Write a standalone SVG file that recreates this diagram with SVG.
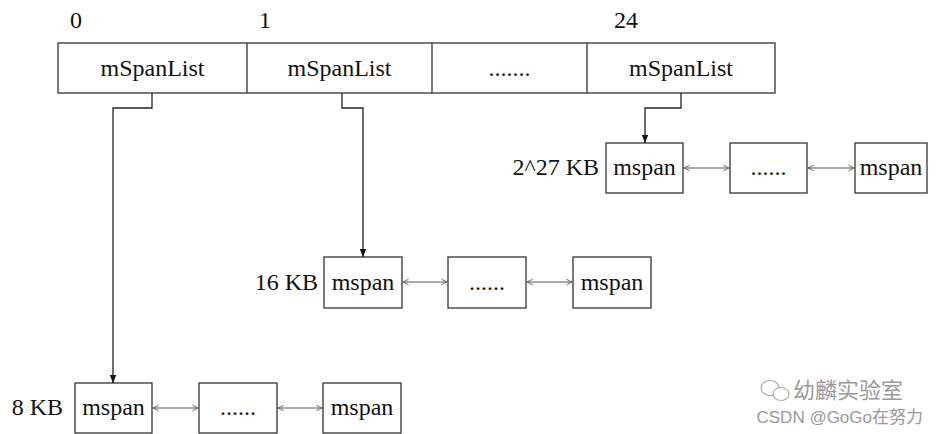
<svg xmlns="http://www.w3.org/2000/svg" width="938" height="434" viewBox="0 0 938 434">
<style>
.t{font-family:"Liberation Serif","Times New Roman",serif;font-size:24px;fill:#111}
.c{text-anchor:middle}
.box{fill:#fff;stroke:#333;stroke-width:1.3}
.lnk{fill:none;stroke:#222;stroke-width:1.3}
.bi{fill:none;stroke:#555;stroke-width:1}
.wm{font-family:"Liberation Sans","Noto Sans CJK SC",sans-serif;fill:#999}
</style>
<defs>
<marker id="arr" viewBox="0 0 10 10" refX="10" refY="5" markerWidth="8" markerHeight="8" markerUnits="userSpaceOnUse" orient="auto">
<path d="M0,1 L10,5 L0,9 Z" fill="#111"/>
</marker>
<marker id="chev" viewBox="0 0 10 10" refX="9" refY="5" markerWidth="7" markerHeight="8" markerUnits="userSpaceOnUse" orient="auto-start-reverse">
<path d="M1,1 L9,5 L1,9" fill="none" stroke="#555" stroke-width="1.2"/>
</marker>
</defs>
<rect width="938" height="434" fill="#fff"/>

<g id="indices">
<text class="t" x="70" y="28">0</text>
<text class="t" x="259" y="28">1</text>
<text class="t c" x="626" y="28">24</text>
</g>

<g id="spanlist-array">
<rect class="box" x="58" y="43" width="717" height="50"/>
<line class="box" x1="247" y1="43" x2="247" y2="93"/>
<line class="box" x1="432" y1="43" x2="432" y2="93"/>
<line class="box" x1="587" y1="43" x2="587" y2="93"/>
<text class="t c" x="152.5" y="76">mSpanList</text>
<text class="t c" x="339.5" y="76">mSpanList</text>
<text class="t c" x="509.5" y="76">.......</text>
<text class="t c" x="681" y="76">mSpanList</text>
</g>

<g id="row-2-27">
<text class="t" x="599" y="175" text-anchor="end">2^27 KB</text>
<g id="r1-mspan-a"><rect class="box" x="606" y="143" width="77" height="50"/><text class="t c" x="644.5" y="175">mspan</text></g>
<g id="r1-dots"><rect class="box" x="730" y="143" width="77" height="50"/><text class="t c" x="768.5" y="175">......</text></g>
<g id="r1-mspan-b"><rect class="box" x="855" y="143" width="72" height="50"/><text class="t c" x="891" y="175">mspan</text></g>
</g>

<g id="row-16">
<text class="t" x="318" y="290" text-anchor="end">16 KB</text>
<g id="r2-mspan-a"><rect class="box" x="324" y="257" width="78" height="51"/><text class="t c" x="363" y="290">mspan</text></g>
<g id="r2-dots"><rect class="box" x="448" y="257" width="78" height="51"/><text class="t c" x="487" y="290">......</text></g>
<g id="r2-mspan-b"><rect class="box" x="573" y="257" width="78" height="51"/><text class="t c" x="612" y="290">mspan</text></g>
</g>

<g id="row-8">
<text class="t" x="63" y="415" text-anchor="end">8 KB</text>
<g id="r3-mspan-a"><rect class="box" x="75" y="383" width="77" height="50"/><text class="t c" x="113.5" y="415">mspan</text></g>
<g id="r3-dots"><rect class="box" x="199" y="383" width="78" height="50"/><text class="t c" x="238" y="415">......</text></g>
<g id="r3-mspan-b"><rect class="box" x="323" y="383" width="78" height="50"/><text class="t c" x="362" y="415">mspan</text></g>
</g>

<g id="connectors">
<polyline class="lnk" points="152,93 152,108 113,108 113,383" marker-end="url(#arr)"/>
<polyline class="lnk" points="342,93 342,108 363,108 363,257" marker-end="url(#arr)"/>
<polyline class="lnk" points="681,93 681,108 645,108 645,143" marker-end="url(#arr)"/>
<line class="bi" x1="684" y1="168" x2="729" y2="168" marker-start="url(#chev)" marker-end="url(#chev)"/>
<line class="bi" x1="808" y1="168" x2="854" y2="168" marker-start="url(#chev)" marker-end="url(#chev)"/>
<line class="bi" x1="403" y1="282" x2="447" y2="282" marker-start="url(#chev)" marker-end="url(#chev)"/>
<line class="bi" x1="527" y1="282" x2="572" y2="282" marker-start="url(#chev)" marker-end="url(#chev)"/>
<line class="bi" x1="153" y1="408" x2="198" y2="408" marker-start="url(#chev)" marker-end="url(#chev)"/>
<line class="bi" x1="278" y1="408" x2="322" y2="408" marker-start="url(#chev)" marker-end="url(#chev)"/>
</g>

<g id="watermark">
<ellipse cx="770" cy="388" rx="9" ry="7.5" fill="none" stroke="#aaa" stroke-width="1.2"/>
<ellipse cx="781" cy="394" rx="8" ry="6.5" fill="#fff" stroke="#aaa" stroke-width="1.2"/>
<text class="wm" x="793" y="398" font-size="22">幼麟实验室</text>
<text class="wm" x="923" y="423" font-size="17" text-anchor="end">CSDN @GoGo在努力</text>
</g>
</svg>
